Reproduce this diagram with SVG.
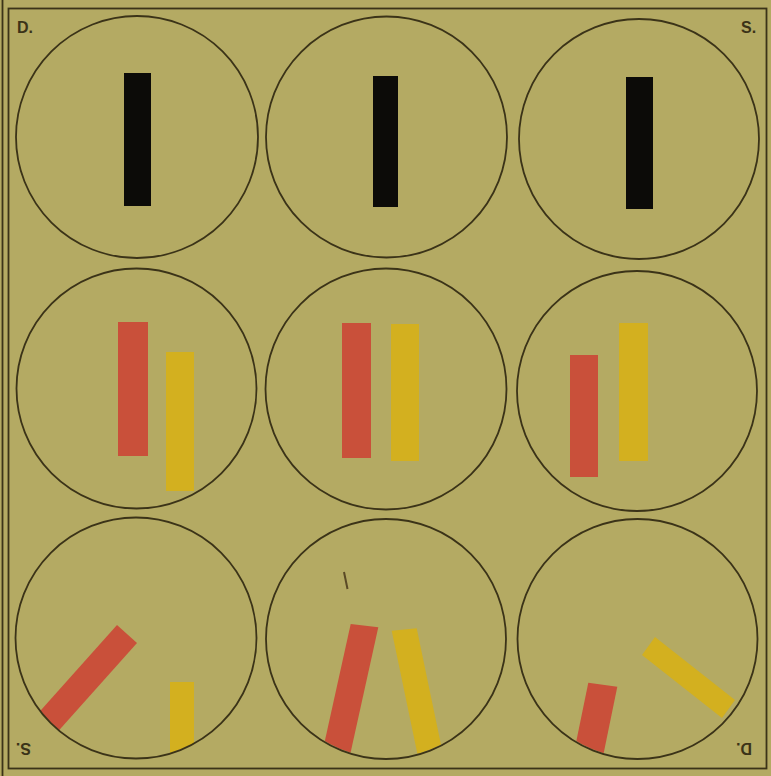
<svg xmlns="http://www.w3.org/2000/svg" width="771" height="776" viewBox="0 0 771 776">
<style>
.ring{fill:none;stroke:#3b3318;stroke-width:1.8}
.blk{fill:#0c0b08}
.red{fill:#c9503a}
.yel{fill:#d3b01f}
.lbl{font-family:"Liberation Sans Narrow","Liberation Sans",sans-serif;font-size:16px;font-weight:bold;fill:#3b3318}
.frame{fill:none;stroke:#3b3318;stroke-width:1.8}
</style>
<defs>
<clipPath id="c7"><circle cx="136" cy="638" r="120"/></clipPath>
<clipPath id="c8"><circle cx="386" cy="639" r="119"/></clipPath>
<clipPath id="c9"><circle cx="637.5" cy="639" r="119"/></clipPath>
</defs>
<rect x="0" y="0" width="771" height="776" fill="#b4aa63"/>
<g id="frame">
<rect class="frame" x="8.5" y="8.5" width="758" height="760"/>
<line class="frame" x1="2.5" y1="0" x2="2.5" y2="776"/>
</g>
<g id="labels">
<text class="lbl" x="17" y="33">D.</text>
<text class="lbl" x="741" y="33">S.</text>
<text class="lbl" x="0" y="0" transform="translate(31,743) rotate(180)">S.</text>
<text class="lbl" x="0" y="0" transform="translate(752,743) rotate(180)">D.</text>
</g>
<g id="n1"><circle class="ring" cx="137" cy="137" r="121"/><rect class="blk" x="124" y="73" width="27" height="133"/></g>
<g id="n2"><circle class="ring" cx="386.5" cy="137" r="120.5"/><rect class="blk" x="373" y="76" width="25" height="131"/></g>
<g id="n3"><circle class="ring" cx="639" cy="139" r="120"/><rect class="blk" x="626" y="77" width="27" height="132"/></g>
<g id="n4"><circle class="ring" cx="136.5" cy="388.5" r="120"/><rect class="red" x="118" y="322" width="30" height="134"/><rect class="yel" x="166" y="352" width="28" height="139"/></g>
<g id="n5"><circle class="ring" cx="386" cy="389" r="120.5"/><rect class="red" x="342" y="323" width="29" height="135"/><rect class="yel" x="391" y="324" width="28" height="137"/></g>
<g id="n6"><circle class="ring" cx="637" cy="391" r="120"/><rect class="red" x="570" y="355" width="28" height="122"/><rect class="yel" x="619" y="323" width="29" height="138"/></g>
<g id="n7">
<g clip-path="url(#c7)"><polygon class="red" points="117,625 137,643 53.7,736.3 33.7,718.3"/><rect class="yel" x="170" y="682" width="24" height="90"/></g>
<circle class="ring" cx="136" cy="638" r="120.5"/>
</g>
<g id="n8">
<g clip-path="url(#c8)"><polygon class="red" points="350.7,624 378.3,627.3 348.1,763.9 320.5,760.6"/><polygon class="yel" points="391.7,630.7 416.7,628.3 445.3,765.4 420.3,767.8"/></g>
<circle class="ring" cx="386" cy="639" r="120"/>
<line x1="344" y1="572" x2="347.5" y2="589" stroke="#5a4a26" stroke-width="2"/>
</g>
<g id="n9">
<g clip-path="url(#c9)"><polygon class="red" points="588.3,682.7 617.3,686.7 597.2,784.7 568.2,780.7"/><polygon class="yel" points="655,637 642,655 722,718 735,700"/></g>
<circle class="ring" cx="637.5" cy="639" r="120"/>
</g>
</svg>
